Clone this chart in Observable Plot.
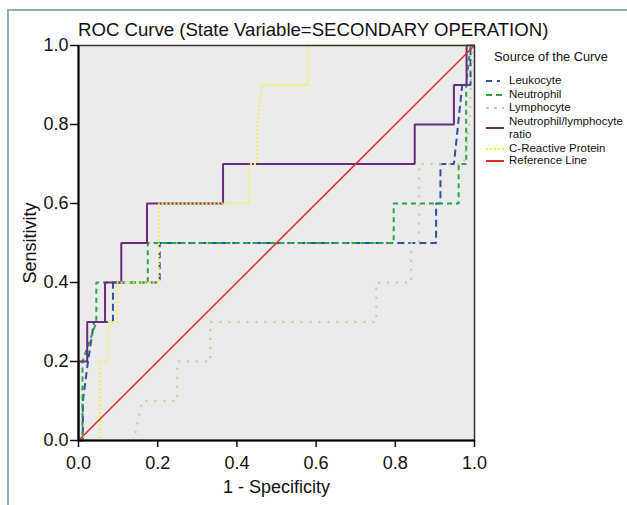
<!DOCTYPE html>
<html>
<head>
<meta charset="utf-8">
<script src="https://cdn.jsdelivr.net/npm/d3@7"></script>
<script src="https://cdn.jsdelivr.net/npm/@observablehq/plot@0.6"></script>
<style>
  html, body { margin: 0; padding: 0; background: #fff; overflow: hidden; }
  #wrap { position: relative; width: 627px; height: 505px; font-family: "Liberation Sans", Arial, sans-serif; color: #111; }
  #border { position: absolute; left: 7px; top: 9px; width: 700px; height: 600px; border-left: 2px solid #8db0b2; border-top: 2px solid #8db0b2; }
  #title { position: absolute; left: 78px; top: 21px; font-size: 18.6px; line-height: 18px; white-space: nowrap; }
  #chart { position: absolute; left: 0; top: 0; }
  .leg { position: absolute; font-size: 11.5px; line-height: 13px; white-space: nowrap; }
  .sw { position: absolute; left: 485px; }
</style>
</head>
<body>
<div id="wrap">
  <div id="border"></div>
  <div id="chart"></div>
  <div id="title">ROC Curve (State Variable=SECONDARY OPERATION)</div>
  <div id="legend"></div>
</div>
<script>
// ---- data (1 - specificity, sensitivity) ----
const leukocyteX = [0, 0.011, 0.011, 0.024, 0.039, 0.087, 0.087, 0.205, 0.205, 0.903, 0.903, 0.914, 0.914, 0.948, 0.969, 0.99, 0.99, 1];
const leukocyteY = [0, 0, 0.1, 0.2, 0.3, 0.3, 0.4, 0.4, 0.5, 0.5, 0.6, 0.6, 0.7, 0.7, 0.9, 0.9, 1, 1];

const neutrophilX = [0, 0.01, 0.01, 0.045, 0.045, 0.175, 0.175, 0.796, 0.796, 0.96, 0.96, 0.979, 0.979, 0.99, 1];
const neutrophilY = [0, 0, 0.2, 0.3, 0.4, 0.4, 0.5, 0.5, 0.6, 0.6, 0.7, 0.7, 0.9, 1, 1];

const lymphocyteX = [0, 0.14, 0.161, 0.249, 0.249, 0.333, 0.333, 0.752, 0.752, 0.84, 0.84, 0.86, 0.86, 0.973, 0.987, 0.995, 1];
const lymphocyteY = [0, 0, 0.1, 0.1, 0.2, 0.2, 0.3, 0.3, 0.4, 0.4, 0.5, 0.5, 0.7, 0.7, 0.8, 1, 1];

const nlrX = [0, 0, 0.022, 0.022, 0.067, 0.067, 0.108, 0.108, 0.173, 0.173, 0.365, 0.365, 0.849, 0.849, 0.948, 0.948, 0.98, 0.98, 1];
const nlrY = [0, 0.2, 0.2, 0.3, 0.3, 0.4, 0.4, 0.5, 0.5, 0.6, 0.6, 0.7, 0.7, 0.8, 0.8, 0.9, 0.9, 1, 1];

const crpX = [0, 0.054, 0.054, 0.075, 0.075, 0.098, 0.098, 0.203, 0.203, 0.43, 0.43, 0.451, 0.451, 0.464, 0.58, 0.58, 1];
const crpY = [0, 0, 0.2, 0.2, 0.3, 0.3, 0.4, 0.4, 0.6, 0.6, 0.7, 0.7, 0.8, 0.9, 0.9, 1, 1];

const refX = [0, 1];
const refY = [0, 1];

const ticks = [0, 0.2, 0.4, 0.6, 0.8, 1.0];
const seriesNames = ["Leukocyte", "Neutrophil", "Lymphocyte", "Neutrophil/lymphocyte ratio", "C-Reactive Protein", "Reference Line"];
// ---------------------------------------------

const styles = [
  {stroke: "#2f4f9f", strokeWidth: 2, strokeDasharray: "7,4"},
  {stroke: "#22a843", strokeWidth: 2, strokeDasharray: "5,4"},
  {stroke: "#c8c79c", strokeWidth: 2, strokeDasharray: "2,7"},
  {stroke: "#6b2a7d", strokeWidth: 2, strokeDasharray: null},
  {stroke: "#f2f04e", strokeWidth: 1.8, strokeDasharray: "2,2"},
  {stroke: "#e5262b", strokeWidth: 1.5, strokeDasharray: null}
];
const xs = [leukocyteX, neutrophilX, lymphocyteX, nlrX, crpX, refX];
const ys = [leukocyteY, neutrophilY, lymphocyteY, nlrY, crpY, refY];
const series = xs.map((X, k) => X.map((x, i) => ({x, y: ys[k][i], name: seriesNames[k]})));

const font = "'Liberation Sans', Arial, sans-serif";
const fmt = d3.format(".1f");

const chart = Plot.plot({
  width: 627,
  height: 505,
  marginLeft: 78,
  marginRight: 153,
  marginTop: 45,
  marginBottom: 65,
  style: {fontFamily: font, fontSize: "18px", background: "transparent", color: "#111"},
  x: {domain: [0, 1]},
  y: {domain: [0, 1]},
  marks: [
    Plot.frame({fill: "#ebebeb", stroke: null}),
    ...series.map((d, k) => Plot.line(d, {x: "x", y: "y", ...styles[k], strokeLinejoin: "miter", strokeLinecap: "butt"})),
    Plot.frame({stroke: "#333", strokeWidth: 1.5}),
    Plot.axisX({ticks, tickFormat: fmt, tickSize: 7, tickPadding: 9, strokeWidth: 1.5, label: null, fontSize: 18}),
    Plot.axisY({ticks, tickFormat: fmt, tickSize: 8, tickPadding: 2, strokeWidth: 1.5, label: null, fontSize: 18}),
    Plot.ruleX([0], {stroke: "#000", strokeWidth: 2}),
    Plot.ruleY([0], {stroke: "#000", strokeWidth: 2}),
    Plot.text(["1 - Specificity"], {frameAnchor: "bottom", dy: 47, lineAnchor: "middle", fontSize: 18}),
    Plot.text(["Sensitivity"], {frameAnchor: "left", textAnchor: "middle", dx: -48, rotate: -90, lineAnchor: "middle", fontSize: 18})
  ]
});
document.getElementById("chart").appendChild(chart);

// legend
const legend = document.getElementById("legend");
const head = document.createElement("div");
head.className = "leg";
head.style.left = "494px";
head.style.top = "50px";
head.style.fontSize = "12.8px";
head.textContent = "Source of the Curve";
legend.appendChild(head);

const rows = [
  {lines: ["Leukocyte"], y: 81, sy: 81},
  {lines: ["Neutrophil"], y: 95, sy: 95},
  {lines: ["Lymphocyte"], y: 108, sy: 108},
  {lines: ["Neutrophil/lymphocyte", "ratio"], y: 122, sy: 128},
  {lines: ["C-Reactive Protein"], y: 149, sy: 149},
  {lines: ["Reference Line"], y: 161, sy: 161}
];
const legendDash = ["6,5,3,5", "6,4", "3,5", null, "2,2", null];
rows.forEach((r, k) => {
  const t = document.createElement("div");
  t.className = "leg";
  t.style.left = "509px";
  t.style.top = (r.y - 7) + "px";
  t.innerHTML = r.lines.join("<br>");
  legend.appendChild(t);
  const ns = "http://www.w3.org/2000/svg";
  const s = document.createElementNS(ns, "svg");
  s.setAttribute("width", 20);
  s.setAttribute("height", 6);
  s.setAttribute("class", "sw");
  s.style.top = (r.sy - 3) + "px";
  const l = document.createElementNS(ns, "line");
  l.setAttribute("x1", 1); l.setAttribute("x2", 19);
  l.setAttribute("y1", 3); l.setAttribute("y2", 3);
  l.setAttribute("stroke", styles[k].stroke);
  l.setAttribute("stroke-width", 2);
  if (legendDash[k]) l.setAttribute("stroke-dasharray", legendDash[k]);
  s.appendChild(l);
  legend.appendChild(s);
});
</script>
</body>
</html>
